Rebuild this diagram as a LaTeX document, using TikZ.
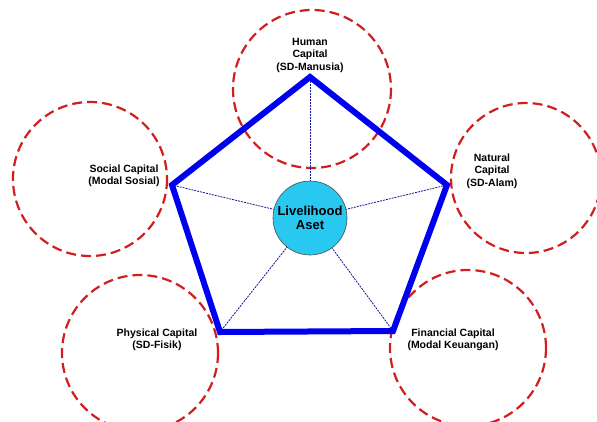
\documentclass[tikz,border=0pt]{standalone}
\usepackage{fontspec}
\setmainfont{Liberation Sans}
\definecolor{dred}{RGB}{210,30,30}
\definecolor{pblue}{RGB}{0,0,240}
\definecolor{snavy}{RGB}{20,20,150}
\definecolor{cfill}{RGB}{40,200,240}
\begin{document}
\begin{tikzpicture}[x=1pt,y=-1pt,
  capcircle/.style={circle,draw=dred,line width=2.2pt,dash pattern=on 10pt off 5pt},
  lbl/.style={font=\bfseries\fontsize{10.5}{12.5}\selectfont,align=center,inner sep=1pt},
  spoke/.style={draw=snavy,line width=0.8pt,dash pattern=on 2pt off 1pt},
  pent/.style={draw=pblue,line width=6pt,line join=miter}]
\useasboundingbox (0,0) rectangle (597,421);
% dashed circles
\draw[capcircle] (312,89) circle (79);
\draw[capcircle] (90,179) circle (77);
\draw[capcircle] (526,178) circle (75);
\draw[capcircle] (140,353) circle (78);
\draw[capcircle] (468,348) circle (78);
% pentagon vertices
\coordinate (vt) at (310,77);
\coordinate (vl) at (172,185);
\coordinate (vr) at (447,185);
\coordinate (vbl) at (220,332);
\coordinate (vbr) at (393,331);
\coordinate (ctr) at (310,218);
% spokes
\foreach \v in {vt,vl,vr,vbl,vbr} \draw[spoke] (ctr) -- (\v);
% pentagon
\draw[pent] (vt) -- (vr) -- (vbr) -- (vbl) -- (vl) -- cycle;
% center
\node[circle,draw=black!70,line width=0.6pt,fill=cfill,minimum size=74pt,inner sep=0pt,
  font=\bfseries\fontsize{13}{14.5}\selectfont,align=center] (c) at (ctr) {Livelihood\\Aset};
% labels
\node[lbl] (h) at (310,55) {Human\\Capital\\(SD-Manusia)};
\node[lbl] (s) at (124,176) {Social Capital\\(Modal Sosial)};
\node[lbl] (n) at (492,171) {Natural\\Capital\\(SD-Alam)};
\node[lbl] (p) at (157,340) {Physical Capital\\(SD-Fisik)};
\node[lbl] (f) at (453,340) {Financial Capital\\(Modal Keuangan)};
\end{tikzpicture}
\end{document}
